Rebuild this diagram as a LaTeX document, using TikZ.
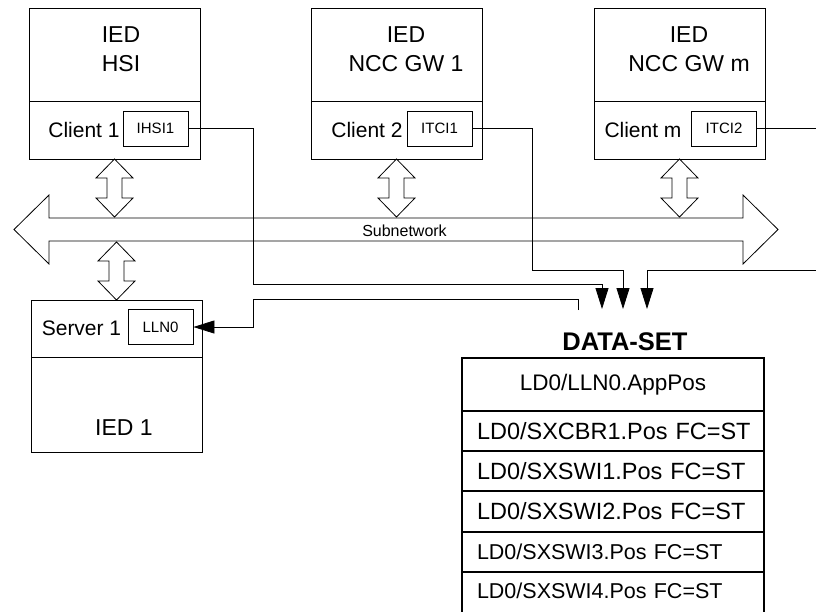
\documentclass[tikz,border=0pt]{standalone}
\usepackage{fontspec}
\setmainfont{Liberation Sans}
\usetikzlibrary{positioning,arrows.meta,calc}

\begin{document}
\begin{tikzpicture}[x=1pt, y=-1pt, line width=0.8pt,
    dblarrow/.pic={
        \draw (0,0) -- ++(18.5,19) -- ++(-11,0) -- ++(0,20) -- ++(11,0) -- ++(-18.5,19)
            -- ++(-18.5,-19) -- ++(11,0) -- ++(0,-20) -- ++(-11,0) -- cycle;
    }]
    \tikzstyle{iedtop} = [rectangle, draw, outer sep=0, minimum width=171pt, minimum height=93pt]
    \tikzstyle{iedclient} = [rectangle, draw, outer sep=0, minimum width=171pt, minimum height=58pt]
    \tikzstyle{lnbox} = [rectangle, draw, minimum width=65pt, minimum height=35pt, font=\fontsize{15}{15}\selectfont]
    \tikzstyle{txtbig} = [align=center, inner sep=0, font=\fontsize{23}{29.5}\selectfont]
    \tikzstyle{txtmid} = [inner sep=0, font=\fontsize{21}{21}\selectfont]
    \tikzstyle{dsrow} = [rectangle, draw, line width=1.6pt, outer sep=0, minimum height=40pt,
        text width=272pt, inner xsep=15pt, align=left, font=\fontsize{23.5}{24}\selectfont]
    \tikzstyle{sigline} = [-{Triangle[width=13pt,length=21pt]}]

    \useasboundingbox (0,0) rectangle (816,611);
    \clip (0,0) rectangle (816,611);

    % clients
    \node[iedtop] (hsi) at (114.5,54.5) {};
    \node[iedclient, below=0pt of hsi] (hsic) {};
    \node[txtbig] at (121,49) {IED\\HSI};
    \node[txtmid] at (84,130) {Client 1};
    \node[lnbox] (ihsi) at (155.5,128.5) {IHSI1};

    \node[iedtop] (gw1) at (396.5,54.5) {};
    \node[iedclient, below=0pt of gw1] (gw1c) {};
    \node[txtbig] at (406,49) {IED\\NCC GW 1};
    \node[txtmid] at (367,130) {Client 2};
    \node[lnbox] (itci1) at (439.5,128.5) {ITCI1};

    \node[iedtop] (gwm) at (679.5,54.5) {};
    \node[iedclient, below=0pt of gwm] (gwmc) {};
    \node[txtbig] at (689,49) {IED\\NCC GW m};
    \node[txtmid] at (643,130) {Client m};
    \node[lnbox] (itci2) at (724,128.5) {ITCI2};

    % server
    \node[iedclient, minimum height=57pt] (srv) at (116.5,328.5) {};
    \node[iedtop, minimum height=95pt, below=0pt of srv] (srvb) {};
    \node[txtmid] at (81.5,328.5) {Server 1};
    \node[lnbox] (lln) at (160.5,327) {LLN0};
    \node[txtbig] at (124,428) {IED 1};

    % subnetwork
    \draw (14,229.5) -- (49,195) -- (49,218) -- (743,218) -- (743,195) -- (778,229.5)
        -- (743,264) -- (743,241) -- (49,241) -- (49,264) -- cycle;
    \node[inner sep=0, font=\fontsize{16}{16}\selectfont] (subnet) at (404.5,231) {Subnetwork};
    \pic at (hsic.south) {dblarrow};
    \pic at (gw1c.south) {dblarrow};
    \pic at (gwmc.south) {dblarrow};
    \pic at ($(srv.north)+(0,-58)$) {dblarrow};

    % data set
    \node[dsrow, align=center, minimum height=53pt, font=\fontsize{22.5}{23}\selectfont] (r1) at (613,384.5) {LD0/LLN0.AppPos};
    \node[dsrow, below=0pt of r1] (r2) {\mbox{LD0/SXCBR1.Pos FC=ST}};
    \node[dsrow, below=0pt of r2] (r3) {LD0/SXSWI1.Pos FC=ST};
    \node[dsrow, minimum height=41pt, below=0pt of r3] (r4) {LD0/SXSWI2.Pos FC=ST};
    \node[dsrow, font=\fontsize{21.5}{22}\selectfont, below=0pt of r4] (r5) {LD0/SXSWI3.Pos FC=ST};
    \node[dsrow, draw=none, minimum height=38pt, font=\fontsize{21.5}{22}\selectfont, below=0pt of r5] (r6) {LD0/SXSWI4.Pos FC=ST};
    \draw[line width=1.6pt] (r5.south west) -- ++(0,45) (r5.south east) -- ++(0,45);
    \node[inner sep=0, font=\bfseries\fontsize{25.5}{26}\selectfont, above=7pt of r1, xshift=12pt] (dstitle) {DATA-SET};

    \coordinate (t1) at (602,309);
    \coordinate (t2) at (623,309);
    \coordinate (t3) at (647,309);
    \coordinate (dsout) at (578,310);

    \draw[sigline] (ihsi.east) -| (253,284) -| (t1);
    \draw[sigline] (itci1.east) -| (532,270) -| (t2);
    \draw[sigline] (itci2.east) -| (830,270) -| (t3);
    \draw[sigline] (dsout) |- (253,299) |- (lln.east);
\end{tikzpicture}
\end{document}
